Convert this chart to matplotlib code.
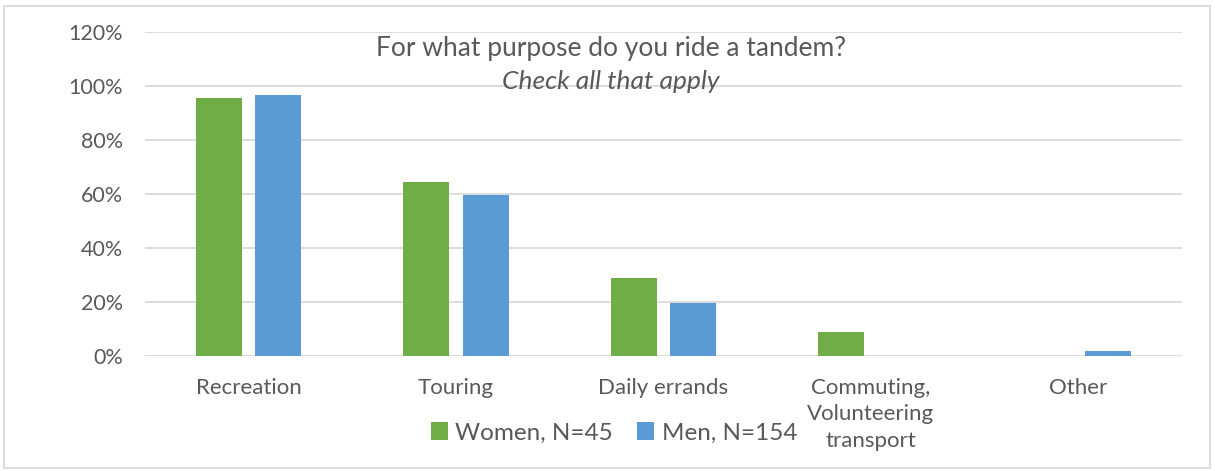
import matplotlib.pyplot as plt
import numpy as np
from matplotlib.patches import Rectangle

categories = ["Recreation", "Touring", "Daily errands",
              "Commuting,\nVolunteering\ntransport", "Other"]
women = [95.6, 64.4, 28.9, 8.9, 0.0]
men = [96.8, 59.7, 19.5, 0.0, 1.9]
yticks = [0, 20, 40, 60, 80, 100, 120]

GREEN = "#70AD47"
BLUE = "#5B9BD5"
TEXT = "#595959"

plt.rcParams["font.family"] = ["Lato", "DejaVu Sans"]

fig = plt.figure(figsize=(12.15, 4.71), dpi=100)
ax = fig.add_axes([145 / 1215, 1 - 356 / 471, 1037 / 1215, 324 / 471])

x = np.arange(len(categories))
w = 0.222
ax.bar(x - 0.143, women, w, color=GREEN, label="Women, N=45", zorder=3)
ax.bar(x + 0.143, men, w, color=BLUE, label="Men, N=154", zorder=3)

ax.set_xlim(-0.5, len(categories) - 0.5)
ax.set_ylim(0, 120)
ax.set_yticks(yticks)
ax.set_yticklabels([f"{t}%" for t in yticks], fontsize=15.5, color=TEXT)
ax.set_xticks(x)
ax.set_xticklabels(categories, fontsize=16, color=TEXT, va="top", linespacing=1.42)
ax.tick_params(axis="y", length=0, pad=16)
ax.tick_params(axis="x", length=0, pad=15.5)
ax.grid(axis="y", color="#D9D9D9", linewidth=1.3, zorder=0)
for s in ax.spines.values():
    s.set_visible(False)

ax.text(0.449, 0.948, "For what purpose do you ride a tandem?", transform=ax.transAxes,
        ha="center", va="center", fontsize=19, color=TEXT)
ax.text(0.449, 0.847, "Check all that apply", transform=ax.transAxes,
        ha="center", va="center", fontsize=19, color=TEXT, style="italic")

leg = fig.legend(loc="center", bbox_to_anchor=(614 / 1215, 1 - 433 / 471), ncol=2,
                 frameon=False, fontsize=17.5, handlelength=0.7, handleheight=0.7,
                 handletextpad=0.3, columnspacing=1.0)
for t in leg.get_texts():
    t.set_color(TEXT)

fig.patches.append(Rectangle((4 / 1215, 3 / 471), 1206 / 1215, 462 / 471,
                             transform=fig.transFigure, fill=False,
                             edgecolor="#D9D9D9", linewidth=1.3))

fig.savefig("out.png", dpi=100)
